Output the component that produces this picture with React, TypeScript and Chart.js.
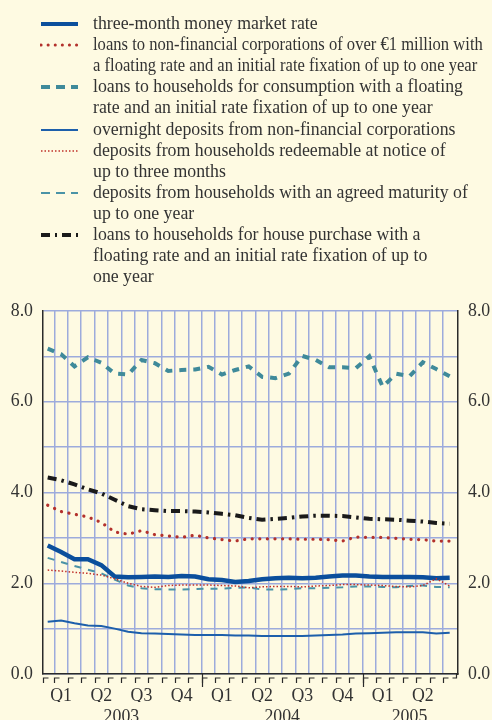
import React, { useEffect, useRef } from 'react';
import { Chart, registerables } from 'chart.js';

Chart.register(...registerables);

// ---- data (monthly, Jan 2003 – Jul 2005) ----
const months = [
  'Jan 2003', 'Feb 2003', 'Mar 2003', 'Apr 2003', 'May 2003', 'Jun 2003', 'Jul 2003', 'Aug 2003', 'Sep 2003', 'Oct 2003', 'Nov 2003', 'Dec 2003',
  'Jan 2004', 'Feb 2004', 'Mar 2004', 'Apr 2004', 'May 2004', 'Jun 2004', 'Jul 2004', 'Aug 2004', 'Sep 2004', 'Oct 2004', 'Nov 2004', 'Dec 2004',
  'Jan 2005', 'Feb 2005', 'Mar 2005', 'Apr 2005', 'May 2005', 'Jun 2005', 'Jul 2005',
];

const moneyMarket3m = [
  2.83, 2.69, 2.53, 2.53, 2.40, 2.15, 2.13, 2.14, 2.15, 2.14, 2.16, 2.15,
  2.09, 2.07, 2.03, 2.05, 2.09, 2.11, 2.12, 2.11, 2.12, 2.15, 2.17, 2.17,
  2.15, 2.14, 2.14, 2.14, 2.13, 2.11, 2.12,
];
const loansNfcOver1m = [
  3.72, 3.58, 3.52, 3.46, 3.34, 3.13, 3.08, 3.16, 3.07, 3.04, 3.01, 3.06,
  3.00, 2.96, 2.93, 2.98, 2.98, 2.98, 2.98, 2.97, 2.97, 2.96, 2.93, 3.02,
  3.01, 3.01, 2.99, 2.97, 2.96, 2.93, 2.93,
];
const loansConsumption = [
  7.17, 7.05, 6.78, 6.98, 6.86, 6.62, 6.60, 6.92, 6.85, 6.68, 6.70, 6.71,
  6.77, 6.60, 6.70, 6.78, 6.55, 6.52, 6.62, 7.01, 6.92, 6.76, 6.76, 6.74,
  7.00, 6.33, 6.62, 6.56, 6.87, 6.72, 6.56,
];
const overnightNfc = [
  1.15, 1.18, 1.12, 1.07, 1.06, 1.00, 0.93, 0.90, 0.89, 0.88, 0.87, 0.86,
  0.86, 0.86, 0.85, 0.85, 0.84, 0.84, 0.84, 0.84, 0.85, 0.86, 0.87, 0.89,
  0.90, 0.91, 0.92, 0.92, 0.92, 0.89, 0.91,
];
const depositsNotice3m = [
  2.29, 2.27, 2.24, 2.22, 2.18, 2.10, 2.00, 1.93, 1.91, 1.95, 1.96, 1.96,
  1.96, 1.95, 1.94, 1.90, 1.92, 1.93, 1.93, 1.92, 1.94, 1.95, 1.97, 1.97,
  1.96, 1.95, 1.93, 1.92, 1.95, 2.10, 1.94,
];
const depositsMaturity1y = [
  2.56, 2.47, 2.38, 2.30, 2.22, 2.08, 1.95, 1.89, 1.87, 1.86, 1.86, 1.87,
  1.88, 1.88, 1.90, 1.91, 1.86, 1.86, 1.87, 1.89, 1.89, 1.90, 1.91, 1.93,
  1.93, 1.92, 1.91, 1.94, 1.95, 1.92, 1.91,
];
const loansHousePurchase = [
  4.33, 4.27, 4.18, 4.07, 3.98, 3.84, 3.70, 3.63, 3.61, 3.59, 3.59, 3.58,
  3.56, 3.53, 3.50, 3.44, 3.40, 3.42, 3.44, 3.47, 3.49, 3.49, 3.48, 3.45,
  3.42, 3.41, 3.40, 3.38, 3.36, 3.33, 3.31,
];

const quarterTickValues = [1.5, 4.5, 7.5, 10.5, 13.5, 16.5, 19.5, 22.5, 25.5, 28.5];
const quarterTickLabels = ['Q1', 'Q2', 'Q3', 'Q4', 'Q1', 'Q2', 'Q3', 'Q4', 'Q1', 'Q2'];
const yearTickValues = [6, 18, 27.5];
const yearTickLabels = ['2003', '2004', '2005'];
const yearBoundaries = [12, 24];
const yLabelValues = [0, 2, 4, 6, 8];

const legendItems = [
  { lines: ['three-month money market rate'], color: '#0b4f9c', width: 4, dash: '', cap: 'butt', squeeze: false },
  { lines: ['loans to non-financial corporations of over €1 million with', 'a floating rate and an initial rate fixation of up to one year'], color: '#b3312c', width: 3, dash: '0.1 7', cap: 'round', squeeze: true },
  { lines: ['loans to households for consumption with a floating', 'rate and an initial rate fixation of up to one year'], color: '#3f8a9a', width: 4, dash: '9 6', cap: 'butt', squeeze: false },
  { lines: ['overnight deposits from non-financial corporations'], color: '#1d5fab', width: 2, dash: '', cap: 'butt', squeeze: false },
  { lines: ['deposits from households redeemable at notice of', 'up to three months'], color: '#c0302a', width: 1.5, dash: '1.5 2', cap: 'butt', squeeze: false },
  { lines: ['deposits from households with an agreed maturity of', 'up to one year'], color: '#4a93a6', width: 2, dash: '9 6', cap: 'butt', squeeze: false },
  { lines: ['loans to households for house purchase with a', 'floating rate and an initial rate fixation of up to', 'one year'], color: '#1a1a1a', width: 4, dash: '9 5 2 5', cap: 'butt', squeeze: false },
];

const BG = '#fefae2';
const GRID = '#9dabdc';
const AXIS = '#2a2a2a';
const TEXT = '#333333';
const FONT = "'Liberation Serif', 'Times New Roman', serif";
const FONT_SIZE = 17.8;
const X_MIN = 0.15;
const X_MAX = 31.12;

const toPoints = (arr: number[]) => arr.map((v, i) => ({ x: i + 0.5, y: v }));

const tickMarksPlugin = {
  id: 'tickMarks',
  afterDraw(chart: any) {
    const xs = chart.scales.x;
    const ctx = chart.ctx;
    const y0 = chart.chartArea.bottom;
    const boundaries: number[] = [X_MIN];
    for (let k = 1; k <= 30; k++) boundaries.push(k);
    ctx.save();
    ctx.strokeStyle = AXIS;
    ctx.lineWidth = 1.2;
    boundaries.forEach((v) => {
      const px = Math.round(xs.getPixelForValue(v)) + 0.5;
      const tall = yearBoundaries.includes(v);
      ctx.beginPath();
      ctx.moveTo(px + 5, y0 + 4);
      ctx.lineTo(px, y0 + 4);
      ctx.lineTo(px, y0 + 9);
      ctx.stroke();
      if (tall) {
        ctx.beginPath();
        ctx.moveTo(px, y0);
        ctx.lineTo(px, y0 + 13);
        ctx.stroke();
      }
    });
    const pr = Math.round(xs.getPixelForValue(X_MAX)) - 1.5;
    ctx.beginPath();
    ctx.moveTo(pr - 4, y0 + 4);
    ctx.lineTo(pr, y0 + 4);
    ctx.lineTo(pr, y0);
    ctx.stroke();
    ctx.restore();
  },
};

function LegendSample({ color, width, dash, cap }: any) {
  return (
    <svg width={40} height={10} style={{ position: 'absolute', left: 40, top: 6 }}>
      <line x1={1} y1={5} x2={38} y2={5} stroke={color} strokeWidth={width}
        strokeDasharray={dash || undefined} strokeLinecap={cap} />
    </svg>
  );
}

export default function App() {
  const canvasRef = useRef<HTMLCanvasElement | null>(null);

  useEffect(() => {
    if (!canvasRef.current) return;
    const tickFont = { family: FONT, size: FONT_SIZE };
    const chart = new Chart(canvasRef.current, {
      type: 'line',
      data: {
        labels: months,
        datasets: [
          { label: 'deposits from households redeemable at notice of up to three months', data: toPoints(depositsNotice3m), borderColor: '#c0302a', borderWidth: 1.5, borderDash: [1.5, 2], order: 0 },
          { label: 'three-month money market rate', data: toPoints(moneyMarket3m), borderColor: '#0b4f9c', borderWidth: 4.5, order: 2 },
          { label: 'loans to non-financial corporations', data: toPoints(loansNfcOver1m), borderColor: '#b3312c', borderWidth: 3.2, borderDash: [0.1, 7.5], borderCapStyle: 'round', order: 1 },
          { label: 'loans to households for consumption', data: toPoints(loansConsumption), borderColor: '#3f8a9a', borderWidth: 4, borderDash: [7, 7], order: 1 },
          { label: 'overnight deposits from non-financial corporations', data: toPoints(overnightNfc), borderColor: '#1d5fab', borderWidth: 2, order: 1 },
          { label: 'deposits from households with an agreed maturity of up to one year', data: toPoints(depositsMaturity1y), borderColor: '#4a93a6', borderWidth: 2, borderDash: [7, 7], order: 3 },
          { label: 'loans to households for house purchase', data: toPoints(loansHousePurchase), borderColor: '#1a1a1a', borderWidth: 4, borderDash: [9, 5, 2.5, 5], order: 1 },
        ].map((d: any) => ({ ...d, pointRadius: 0, tension: 0, fill: false, backgroundColor: d.borderColor })),
      },
      options: {
        animation: false,
        responsive: false,
        devicePixelRatio: 1,
        layout: { padding: { top: 311, left: 0, right: 0, bottom: 0 } },
        plugins: { legend: { display: false }, tooltip: { enabled: false } },
        scales: {
          x: {
            type: 'linear',
            position: 'bottom',
            min: X_MIN,
            max: X_MAX,
            weight: 0,
            afterBuildTicks: (axis: any) => {
              const t: any[] = [];
              for (let k = 1; k <= 30; k++) t.push({ value: k });
              quarterTickValues.forEach((v) => t.push({ value: v }));
              t.sort((a, b) => a.value - b.value);
              axis.ticks = t;
            },
            afterFit: (s: any) => { s.height = 28; },
            grid: {
              color: (c: any) => (c.tick && Number.isInteger(c.tick.value) ? GRID : 'rgba(0,0,0,0)'),
              lineWidth: 1.5,
              drawTicks: false,
            },
            border: { display: true, color: AXIS, width: 1.5 },
            ticks: {
              autoSkip: false,
              maxRotation: 0,
              minRotation: 0,
              padding: 12,
              color: TEXT,
              font: tickFont,
              callback: (v: any) => {
                const i = quarterTickValues.indexOf(Number(v));
                return i >= 0 ? quarterTickLabels[i] : '';
              },
            },
          },
          x2: {
            type: 'linear',
            position: 'bottom',
            min: X_MIN,
            max: X_MAX,
            weight: 1,
            afterBuildTicks: (axis: any) => { axis.ticks = yearTickValues.map((v) => ({ value: v })); },
            afterFit: (s: any) => { s.height = 18; },
            grid: { display: false, drawTicks: false },
            border: { display: false },
            ticks: {
              autoSkip: false,
              maxRotation: 0,
              minRotation: 0,
              padding: 5,
              color: TEXT,
              font: tickFont,
              callback: (v: any) => {
                const i = yearTickValues.indexOf(Number(v));
                return i >= 0 ? yearTickLabels[i] : '';
              },
            },
          },
          y: {
            type: 'linear',
            position: 'left',
            min: 0,
            max: 8,
            afterFit: (s: any) => { s.width = 43; },
            afterBuildTicks: (axis: any) => {
              const t: any[] = [];
              for (let k = 0; k <= 8; k++) t.push({ value: k });
              axis.ticks = t;
            },
            grid: { color: GRID, lineWidth: 1.5, drawTicks: false },
            border: { display: true, color: AXIS, width: 1.5 },
            ticks: {
              padding: 10,
              color: TEXT,
              font: tickFont,
              callback: (v: any) => (yLabelValues.includes(Number(v)) ? Number(v).toFixed(1) : ''),
            },
          },
          y2: {
            type: 'linear',
            position: 'right',
            min: 0,
            max: 8,
            afterFit: (s: any) => { s.width = 34; },
            afterBuildTicks: (axis: any) => {
              axis.ticks = yLabelValues.map((v) => ({ value: v }));
            },
            grid: { display: false, drawTicks: false },
            border: { display: true, color: AXIS, width: 1.5 },
            ticks: {
              padding: 10,
              color: TEXT,
              font: tickFont,
              callback: (v: any) => Number(v).toFixed(1),
            },
          },
        },
      },
      plugins: [tickMarksPlugin],
    } as any);
    return () => chart.destroy();
  }, []);

  let lineIndex = 0;
  return (
    <div style={{ position: 'fixed', left: 0, top: 0, width: 492, height: 720, background: BG, overflow: 'hidden' }}>
      <canvas ref={canvasRef} width={492} height={720} style={{ position: 'absolute', left: 0, top: 0 }} />
      <div style={{ position: 'absolute', left: 0, top: 13, width: 492, fontFamily: FONT, fontSize: FONT_SIZE, color: TEXT, lineHeight: '21.1px' }}>
        {legendItems.map((it, idx) => {
          const top = lineIndex * 21.1;
          lineIndex += it.lines.length;
          return (
            <div key={idx} style={{ position: 'absolute', left: 0, top, width: 492 }}>
              <LegendSample color={it.color} width={it.width} dash={it.dash} cap={it.cap} />
              <div style={{ position: 'absolute', left: 93, top: 0, whiteSpace: 'nowrap' }}>
                {it.lines.map((l, j) => (
                  <div key={j} style={it.squeeze ? { transform: 'scaleX(0.933)', transformOrigin: 'left center' } : undefined}>{l}</div>
                ))}
              </div>
            </div>
          );
        })}
      </div>
    </div>
  );
}
